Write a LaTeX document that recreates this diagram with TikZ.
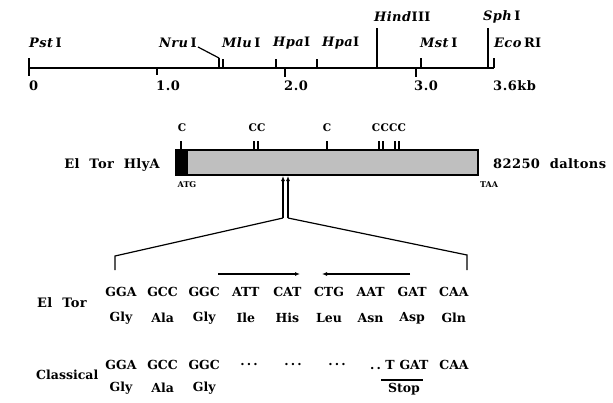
\documentclass[tikz,border=0pt]{standalone}
\usepackage{fontspec}
\setmainfont{DejaVu Serif}
\usetikzlibrary{arrows.meta}
\begin{document}
\begin{tikzpicture}[x=1pt,y=-1pt,
  lbl/.style={font=\bfseries\fontsize{13}{14}\selectfont\addfontfeature{LetterSpace=3}, inner sep=0pt},
  enz/.style={font=\bfseries\fontsize{13}{14}\selectfont\addfontfeature{LetterSpace=3}, inner sep=0pt},
  num/.style={font=\bfseries\fontsize{13}{14}\selectfont\addfontfeature{LetterSpace=4}, inner sep=0pt, anchor=west},
  small/.style={font=\bfseries\fontsize{10.5}{12}\selectfont\addfontfeature{LetterSpace=2}, inner sep=0pt},
  tiny/.style={font=\bfseries\fontsize{8}{9}\selectfont, inner sep=0pt},
  seq/.style={font=\bfseries\fontsize{12.5}{14}\selectfont, inner sep=0pt},
  ruler/.style={line width=1.4pt},
  tick/.style={line width=1.2pt},
  thin/.style={line width=1.2pt},
  tip/.style={-{Latex[length=5pt,width=4pt]}, line width=1.2pt}]
\useasboundingbox (0,0) rectangle (613,402);

% ---- restriction map ----
\coordinate (r0) at (29,68);
\coordinate (r1) at (494,68);
\draw[ruler] (r0) -- (r1);
\coordinate (pstT) at (29,58); \coordinate (pstB) at (29,76);
\draw[tick] (pstT) -- (pstB);
\draw[tick] (157,68) -- (157,75);
\draw[tick] (285,68) -- (285,77);
\draw[tick] (416,68) -- (416,77);
\draw[tick] (219,58) -- (219,68);
\draw[tick] (223,59) -- (223,68);
\draw[tick] (276,59) -- (276,68);
\draw[tick] (317,59) -- (317,68);
\draw[tick] (377,28) -- (377,68);
\draw[tick] (421,58) -- (421,68);
\draw[tick] (488,28) -- (488,68);
\draw[tick] (494,58) -- (494,68);

\node[enz, anchor=west] (pst) at (29,43) {\textit{Pst}\,I};
\node[enz, anchor=east] (nru) at (197,43) {\textit{Nru}\,I};
\draw[thin] (nru.east) ++(1,4) coordinate (nruL) -- (219,58);
\node[enz, anchor=west] (mlu) at (222,43) {\textit{Mlu}\,I};
\node[enz, anchor=west] (hpa1) at (273,43) {\textit{Hpa}I};
\node[enz, anchor=west] (hpa2) at (322,43) {\textit{Hpa}I};
\node[enz, anchor=west] (hind) at (374,17) {\textit{Hind}III};
\node[enz, anchor=west] (mst) at (420,43) {\textit{Mst}\,I};
\node[enz, anchor=west] (sph) at (483,17) {\textit{Sph}\,I};
\node[enz, anchor=west] (eco) at (494,43) {\textit{Eco}\,RI};

\node[num] (n0) at (29,86) {0};
\node[num] (n1) at (156,86) {1.0};
\node[num] (n2) at (284,86) {2.0};
\node[num] (n3) at (414,86) {3.0};
\node[num] (n4) at (493,86) {3.6kb};

% ---- gene bar ----
\fill[black!25] (188,150) rectangle (478,175);
\fill[black] (176,150) rectangle (188,175);
\draw[line width=1.3pt] (176,150) rectangle (478,175);
\node[lbl, anchor=east] (eltorH) at (160,165) {El\ \ Tor\ \ HlyA};
\node[lbl, anchor=west] (dal) at (493,164) {82250\ \ daltons};
\node[tiny] (atg) at (187,185) {ATG};
\node[tiny] (taa) at (489,185) {TAA};

\foreach \x in {181,254,258,327,379,383,395,399}
  \draw[tick] (\x,141) -- (\x,150);
\node[small] (c1) at (182,128) {C};
\node[small] (c2) at (257,128) {CC};
\node[small] (c3) at (327,128) {C};
\node[small] (c4) at (389,128) {CCCC};

% ---- zoom lines ----
\coordinate (zl) at (283,218);
\coordinate (zr) at (288,218);
\coordinate (zlt) at (283,176);
\coordinate (zrt) at (288,176);
\draw[tip] (zl) -- (zlt);
\draw[tip] (zr) -- (zrt);
\coordinate (bl1) at (115,256); \coordinate (bl2) at (115,270);
\coordinate (br1) at (467,255); \coordinate (br2) at (467,270);
\draw[thin] (zl) -- (bl1) -- (bl2);
\draw[thin] (zr) -- (br1) -- (br2);

% ---- sequences ----
\node[lbl, anchor=west] (eltor) at (37,303) {El\ \ Tor};
\node[lbl, anchor=west, font=\bfseries\fontsize{12.5}{14}\selectfont] (classical) at (36,375) {Classical};

\foreach \c/\a [count=\i] in {GGA/Gly,GCC/Ala,GGC/Gly,ATT/Ile,CAT/His,CTG/Leu,AAT/Asn,GAT/Asp,CAA/Gln} {
  \node[seq] (e\i) at ({121+41.6*(\i-1)},292) {\c};
  \node[seq] (a\i) at ({121+41.6*(\i-1)},318) {\a};
}
\coordinate (ar1s) at (218,274); \coordinate (ar1e) at (300,274);
\coordinate (ar2s) at (410,274); \coordinate (ar2e) at (322,274);
\draw[tip] (ar1s) -- (ar1e);
\draw[tip] (ar2s) -- (ar2e);

\node[seq] (k1) at (121,365) {GGA};
\node[seq] (k2) at (162.6,365) {GCC};
\node[seq] (k3) at (204.2,365) {GGC};
\node[seq] (k4) at (249,365) {.\,.\,.};
\node[seq] (k5) at (293,365) {.\,.\,.};
\node[seq] (k6) at (337,365) {.\,.\,.};
\node[seq, anchor=west] (k7) at (370,365) {.\,.\ T};
\node[seq] (k8) at (414,365) {GAT};
\node[seq] (k9) at (454,365) {CAA};
\node[seq] (g1) at (121,388) {Gly};
\node[seq] (g2) at (162.6,388) {Ala};
\node[seq] (g3) at (204.2,388) {Gly};
\node[seq] (stop) at (404,389) {Stop};
\coordinate (u1) at (381,380); \coordinate (u2) at (423,380);
\draw[line width=2.4pt] (u1) -- (u2);
\end{tikzpicture}
\end{document}
